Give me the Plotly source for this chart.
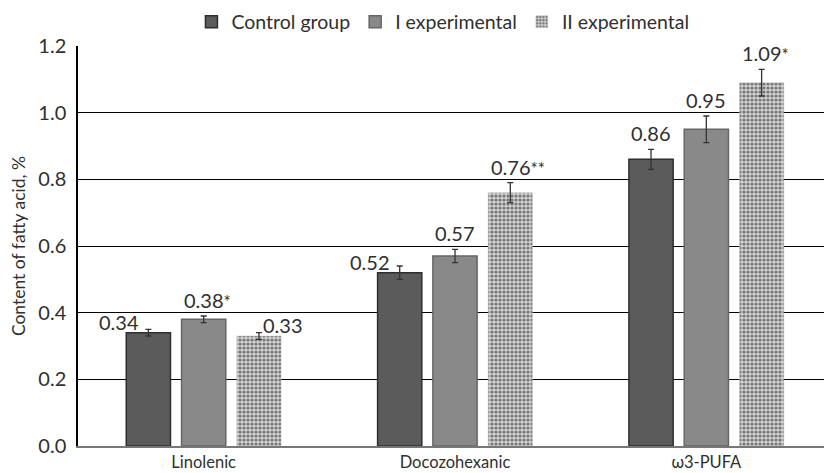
import plotly.graph_objects as go

categories = ["Linolenic", "Docozohexanic", "ω3-PUFA"]
series_names = ["Control group", "I experimental", "II experimental"]
control = [0.34, 0.52, 0.86]
exp1 = [0.38, 0.57, 0.95]
exp2 = [0.33, 0.76, 1.09]
control_err = [0.01, 0.02, 0.03]
exp1_err = [0.01, 0.02, 0.04]
exp2_err = [0.01, 0.03, 0.04]
control_lbl = ["0.34", "0.52", "0.86"]
exp1_lbl = ["0.38*", "0.57", "0.95"]
exp2_lbl = ["0.33", "0.76**", "1.09*"]
y_ticks = [0.0, 0.2, 0.4, 0.6, 0.8, 1.0, 1.2]

FONT = "Lato, 'Open Sans', sans-serif"
TXT = "#2f2f2f"

values = [control, exp1, exp2]
errs = [control_err, exp1_err, exp2_err]
lbls = [control_lbl, exp1_lbl, exp2_lbl]

fig = go.Figure()
styles = [
    dict(color="#5b5b5b", line=dict(color="#2e2e2e", width=1.5)),
    dict(color="#898989", line=dict(color="#666666", width=1.5)),
    dict(color="#b0b0b0", line=dict(color="#c0c0c0", width=0.5),
         pattern=dict(shape=".", fgcolor="#1a1a1a", bgcolor="#d2d2d2", size=4, solidity=0.5)),
]
for name, v, e, st in zip(series_names, values, errs, styles):
    fig.add_trace(go.Bar(
        x=categories, y=v, name=name, marker=st,
        error_y=dict(type="data", array=e, visible=True, color="#333333", thickness=1.3, width=3),
    ))

# label placement (pixel shifts relative to bar position), style only
slot_px = 55
label_mode = {
    (0, 0): ("side", -30), (2, 0): ("side", 24), (0, 1): ("side", -30),
}
for si in range(3):
    for ci, cat in enumerate(categories):
        base_shift = (si - 1) * slot_px
        mode = label_mode.get((si, ci))
        if mode:
            y = values[si][ci]
            xs = base_shift + mode[1]
            ys = -3
        else:
            y = values[si][ci] + errs[si][ci]
            xs = base_shift
            ys = 2
        txt = lbls[si][ci]
        if "*" in txt:
            num = txt.rstrip("*")
            stars = txt[len(num):]
            txt = num + "<span style='font-size:17px'>" + stars + "</span>"
            xs += 4 * len(stars)
        fig.add_annotation(x=cat, y=y, text=txt, showarrow=False, xshift=xs, yshift=ys,
                           yanchor="bottom", xanchor="center",
                           font=dict(family=FONT, size=20, color=TXT))

# page body has an 8px margin; figure is sized to fit the 832x473 window
fig.update_layout(
    width=824, height=465,
    margin=dict(l=70, r=0, t=38, b=27, autoexpand=False),
    paper_bgcolor="white", plot_bgcolor="white",
    barmode="group", bargap=0.34, bargroupgap=0.2,
    font=dict(family=FONT, size=18, color=TXT),
    showlegend=True,
    legend=dict(orientation="h", x=0.484, xanchor="center", y=1.06, yanchor="middle",
                font=dict(family=FONT, size=19.5, color=TXT), itemwidth=30,
                traceorder="normal", bgcolor="rgba(0,0,0,0)"),
    xaxis=dict(showline=True, linecolor="#777777", linewidth=1.5, ticks="",
               tickfont=dict(family=FONT, size=16.5, color=TXT), showgrid=False),
    yaxis=dict(range=[0, 1.2], tickvals=y_ticks, tickformat=".1f",
               showgrid=True, gridcolor="#000000", gridwidth=1,
               showline=True, linecolor="#000000", linewidth=1.5,
               ticks="", zeroline=False, ticklabelstandoff=6,
               tickfont=dict(family=FONT, size=20, color=TXT),
               title=dict(text="Content of fatty acid, %", font=dict(family=FONT, size=17.5, color=TXT), standoff=8)),
)
fig.write_html("out.html")
